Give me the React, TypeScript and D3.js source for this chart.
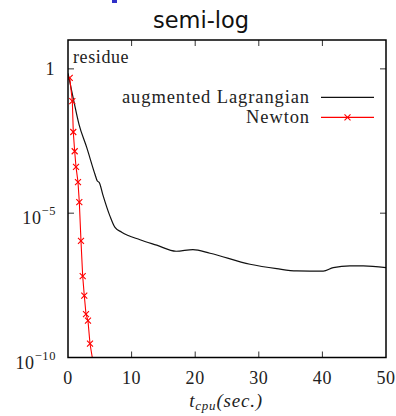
import React, { useEffect, useRef } from 'react';
import * as d3 from 'd3';

// time in seconds, residue
const lagrangianT = [0, 0.9, 1.73, 2.94, 4.25, 4.61, 4.92, 5.46, 6.6, 7.39, 8.44, 11.32, 13.95, 17.0, 19.65, 22.33, 28.62, 32.81, 35.96, 40.14, 41.71, 44.34, 46.43, 50];
const lagrangianR = [7e-1, 8e-2, 1.2e-2, 1.9e-3, 2.2e-4, 1.3e-4, 1.15e-4, 4.5e-5, 7.9e-6, 3.2e-6, 2.2e-6, 1.2e-6, 7.8e-7, 4.8e-7, 5.5e-7, 4.1e-7, 1.7e-7, 1.2e-7, 1.0e-7, 9.8e-8, 1.3e-7, 1.5e-7, 1.5e-7, 1.3e-7];

const newtonT = [0.27, 0.68, 0.83, 1.05, 1.26, 1.57, 1.78, 2.04, 2.31, 2.56, 2.83, 3.14, 3.46, 4.0];
const newtonR = [4.9e-1, 7.6e-2, 6.5e-3, 1.4e-3, 4.0e-4, 1.2e-4, 2.4e-5, 1.1e-6, 6.6e-8, 1.4e-8, 3.2e-9, 1.9e-9, 3.0e-10, 5.7e-11];

const xTicks = [0, 10, 20, 30, 40, 50];
const yTicks = [1, 1e-5, 1e-10];
const yTickExp = [0, -5, -10];

const serif = 'Liberation Serif';

const App = () => {
  const svgRef = useRef(null);

  useEffect(() => {
    const width = 396;
    const height = 416;
    const left = 68, right = 386, top = 40, bottom = 357.5;

    const x = d3.scaleLinear().domain([0, 50]).range([left, right]);
    const y = d3.scaleLog().domain([1e-10, 10]).range([bottom, top]);

    const svg = d3.select(svgRef.current)
      .attr('width', width)
      .attr('height', height);
    svg.selectAll('*').remove();

    // bit of blue from the slide above
    svg.append('rect').attr('x', 112).attr('y', 0).attr('width', 5).attr('height', 3).attr('fill', '#3030c8');

    svg.append('text')
      .attr('x', 201).attr('y', 28)
      .attr('text-anchor', 'middle')
      .attr('font-family', 'DejaVu Sans')
      .attr('font-size', 22.5)
      .attr('fill', '#111')
      .text('semi-log');

    svg.append('defs').append('clipPath').attr('id', 'plotclip')
      .append('rect').attr('x', left).attr('y', top).attr('width', right - left).attr('height', bottom - top);

    // ticks inward
    const tk = svg.append('g').attr('stroke', '#333').attr('stroke-width', 1);
    xTicks.slice(1, -1).forEach(t => {
      tk.append('line').attr('x1', x(t)).attr('x2', x(t)).attr('y1', bottom).attr('y2', bottom - 6);
      tk.append('line').attr('x1', x(t)).attr('x2', x(t)).attr('y1', top).attr('y2', top + 6);
    });
    yTicks.slice(0, 2).forEach(t => {
      tk.append('line').attr('x1', left).attr('x2', left + 6).attr('y1', y(t)).attr('y2', y(t));
      tk.append('line').attr('x1', right).attr('x2', right - 6).attr('y1', y(t)).attr('y2', y(t));
    });

    const g = svg.append('g').attr('clip-path', 'url(#plotclip)');

    const lagData = lagrangianT.map((t, i) => [t, lagrangianR[i]]);
    const newData = newtonT.map((t, i) => [t, newtonR[i]]);

    g.append('path')
      .datum(lagData)
      .attr('fill', 'none')
      .attr('stroke', '#111')
      .attr('stroke-width', 1.2)
      .attr('d', d3.line().x(d => x(d[0])).y(d => y(d[1])).curve(d3.curveMonotoneX));

    g.append('path')
      .datum(newData)
      .attr('fill', 'none')
      .attr('stroke', '#ff0000')
      .attr('stroke-width', 1.1)
      .attr('d', d3.line().x(d => x(d[0])).y(d => y(d[1])));

    const cross = (sel, cx, cy) => {
      const s = 3;
      sel.append('path')
        .attr('d', `M${cx - s},${cy - s}L${cx + s},${cy + s}M${cx - s},${cy + s}L${cx + s},${cy - s}`)
        .attr('stroke', '#ff0000')
        .attr('stroke-width', 1.1)
        .attr('fill', 'none');
    };
    newData.forEach(d => cross(g, x(d[0]), y(d[1])));

    // frame
    svg.append('rect')
      .attr('x', left).attr('y', top).attr('width', right - left).attr('height', bottom - top)
      .attr('fill', 'none').attr('stroke', '#000').attr('stroke-width', 1.5);

    const txt = (sx, sy, anchor, size = 18, spacing = 0.6) => svg.append('text')
      .attr('x', sx).attr('y', sy)
      .attr('text-anchor', anchor)
      .attr('fill', '#222')
      .attr('font-family', serif)
      .attr('font-size', size)
      .attr('letter-spacing', spacing);

    // x tick labels
    xTicks.forEach(t => txt(x(t), 383.5, 'middle').text(t));

    // y tick labels
    yTicks.forEach((t, i) => {
      const e = yTickExp[i];
      const ty = y(t);
      if (e === 0) {
        txt(55, ty + 6, 'end').text('1');
      } else {
        const lab = txt(56, ty + 11, 'end');
        lab.append('tspan').text('10');
        lab.append('tspan').attr('dy', -9).attr('font-size', 12.5).text(`\u2212${-e}`);
      }
    });

    // axis label
    const xl = txt(226, 407, 'middle', 19, 0.8).attr('font-style', 'italic');
    xl.append('tspan').text('t');
    xl.append('tspan').attr('dy', 3).attr('font-size', 13).text('cpu');
    xl.append('tspan').attr('dy', -3).text('(sec.)');

    txt(73, 62.5, 'start').text('residue');

    // legend
    const legend = [
      { label: 'augmented Lagrangian', color: '#111', marker: false, ly: 97.3 },
      { label: 'Newton', color: '#ff0000', marker: true, ly: 117.3 },
    ];
    legend.forEach(l => {
      txt(310, l.ly + 5.5, 'end', 18.5, 0.9).text(l.label);
      svg.append('line').attr('x1', 321).attr('x2', 374).attr('y1', l.ly).attr('y2', l.ly)
        .attr('stroke', l.color).attr('stroke-width', 1.2);
      if (l.marker) cross(svg, 347.5, l.ly);
    });
  }, []);

  return <svg ref={svgRef} style={{ position: 'absolute', left: 0, top: 0 }}></svg>;
};

export default App;
